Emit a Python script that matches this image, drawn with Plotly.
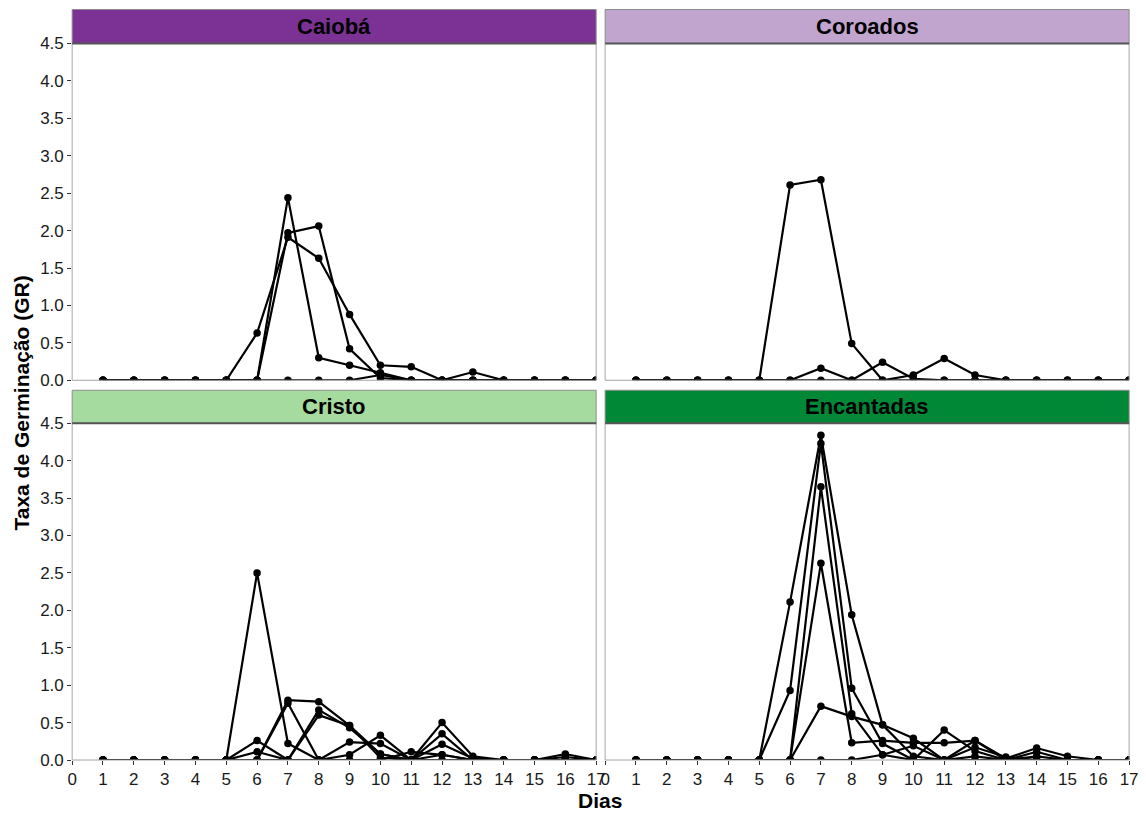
import plotly.graph_objects as go

W, H = 1146, 813
days = list(range(1, 18))
x_ticks = list(range(0, 18))
y_ticks = [0, 0.5, 1.0, 1.5, 2.0, 2.5, 3.0, 3.5, 4.0, 4.5]

panel_names = ["Caiobá", "Coroados", "Cristo", "Encantadas"]
strip_colors = ["#7B3294", "#C2A5CF", "#A6DBA0", "#008837"]

caioba = [
    [0, 0, 0, 0, 0, 0.63, 1.91, 1.63, 0.88, 0.20, 0.18, 0, 0.11, 0, 0, 0, 0],
    [0, 0, 0, 0, 0, 0, 2.44, 0.30, 0.20, 0.10, 0, 0, 0, 0, 0, 0, 0],
    [0, 0, 0, 0, 0, 0, 1.97, 2.06, 0.42, 0.03, 0, 0, 0, 0, 0, 0, 0],
    [0, 0, 0, 0, 0, 0, 0, 0, 0, 0.07, 0, 0, 0, 0, 0, 0, 0],
]
coroados = [
    [0, 0, 0, 0, 0, 2.61, 2.68, 0.49, 0, 0, 0, 0, 0, 0, 0, 0, 0],
    [0, 0, 0, 0, 0, 0, 0.16, 0, 0.24, 0.02, 0, 0, 0, 0, 0, 0, 0],
    [0, 0, 0, 0, 0, 0, 0, 0, 0, 0.07, 0.29, 0.07, 0, 0, 0, 0, 0],
]
cristo = [
    [0, 0, 0, 0, 0, 2.50, 0.22, 0, 0.24, 0.22, 0, 0.07, 0, 0, 0, 0, 0],
    [0, 0, 0, 0, 0, 0.26, 0, 0.67, 0.43, 0.08, 0, 0.21, 0.02, 0, 0, 0.08, 0],
    [0, 0, 0, 0, 0, 0.11, 0, 0.60, 0.46, 0.03, 0, 0, 0, 0, 0, 0, 0],
    [0, 0, 0, 0, 0, 0, 0.80, 0.78, 0.46, 0.08, 0, 0.50, 0.05, 0, 0, 0, 0],
    [0, 0, 0, 0, 0, 0, 0.76, 0, 0.07, 0.33, 0, 0.35, 0, 0, 0, 0, 0],
    [0, 0, 0, 0, 0, 0, 0, 0, 0, 0, 0.11, 0.07, 0, 0, 0, 0.04, 0],
]
encantadas = [
    [0, 0, 0, 0, 0, 2.11, 4.34, 1.94, 0.47, 0.05, 0, 0.26, 0.02, 0.16, 0.05, 0, 0],
    [0, 0, 0, 0, 0, 0.93, 4.23, 0.96, 0.22, 0, 0.40, 0.12, 0, 0.11, 0, 0, 0],
    [0, 0, 0, 0, 0, 0, 3.65, 0.62, 0.07, 0.19, 0, 0.17, 0.04, 0, 0, 0, 0],
    [0, 0, 0, 0, 0, 0, 2.63, 0.23, 0.26, 0.23, 0.23, 0.26, 0, 0, 0, 0, 0],
    [0, 0, 0, 0, 0, 0, 0.72, 0.58, 0.47, 0.29, 0, 0.05, 0, 0, 0, 0, 0],
    [0, 0, 0, 0, 0, 0, 0, 0, 0.07, 0, 0, 0, 0, 0.05, 0, 0, 0],
]
panels_data = [caioba, coroados, cristo, encantadas]

# target pixel layout (screen pixels)
col_x = [(71, 596), (605, 1130)]
row_plot = [(43, 380), (423, 760)]
row_strip = [(9, 43), (390, 423)]

# empirical mapping from screen pixels to paper fractions
OX, PW = 3.7, 1134.2
OY, PH = 8.5, 794.5

def px(v):
    return (v - OX) / PW

def py(v):
    return 1 - (v - OY) / PH

fig = go.Figure()
shapes = []
annotations = []
layout_axes = {}
FONT = "Liberation Sans, Arial, sans-serif"

for i, (name, data) in enumerate(zip(panel_names, panels_data)):
    r, c = divmod(i, 2)
    ax = "" if i == 0 else str(i + 1)
    x0, x1 = col_x[c]
    y0, y1 = row_plot[r]
    for s in data:
        fig.add_trace(go.Scatter(
            x=days, y=s, mode="lines+markers",
            line=dict(color="black", width=2.2),
            marker=dict(color="black", size=7.5),
            xaxis="x" + ax, yaxis="y" + ax, showlegend=False,
            hoverinfo="skip",
        ))
    bottom = r == 1
    left = c == 0
    layout_axes["xaxis" + ax] = dict(
        domain=[px(x0), px(x1)], range=[0, 17], anchor="y" + ax,
        tickmode="array", tickvals=x_ticks,
        ticktext=[str(t) for t in x_ticks] if bottom else [""] * len(x_ticks),
        showticklabels=bottom, ticks="outside" if bottom else "",
        ticklen=4, tickwidth=1, tickcolor="#333333",
        showgrid=False, zeroline=False, showline=False,
        tickfont=dict(family=FONT, size=17, color="#1a1a1a"),
        fixedrange=True,
    )
    layout_axes["yaxis" + ax] = dict(
        domain=[py(y1), py(y0)], range=[0, 4.5], anchor="x" + ax,
        tickmode="array", tickvals=y_ticks,
        ticktext=[f"{t:.1f}" for t in y_ticks],
        showticklabels=left, ticks="outside" if left else "",
        ticklen=4, tickwidth=1, tickcolor="#333333",
        showgrid=False, zeroline=False, showline=False,
        tickfont=dict(family=FONT, size=17, color="#1a1a1a"),
        fixedrange=True,
    )
    # panel border
    shapes.append(dict(type="rect", xref="paper", yref="paper",
                       x0=px(x0), x1=px(x1), y0=py(y1), y1=py(y0),
                       line=dict(color="#a6a6a6", width=1), layer="above"))
    # strip
    s0, s1 = row_strip[r]
    shapes.append(dict(type="rect", xref="paper", yref="paper",
                       x0=px(x0), x1=px(x1), y0=py(s1), y1=py(s0),
                       fillcolor=strip_colors[i],
                       line=dict(color="#8c8c8c", width=1), layer="above"))
    shapes.append(dict(type="line", xref="paper", yref="paper",
                       x0=px(x0), x1=px(x1), y0=py(s1), y1=py(s1),
                       line=dict(color="#555555", width=2), layer="above"))
    annotations.append(dict(text=f"<b>{name}</b>", xref="paper", yref="paper",
                            x=px((x0 + x1) / 2), y=py((s0 + s1) / 2),
                            xanchor="center", yanchor="middle", showarrow=False,
                            font=dict(family=FONT, size=22, color="black")))

annotations.append(dict(text="<b>Dias</b>", xref="paper", yref="paper",
                        x=px(600), y=py(800), xanchor="center", yanchor="middle",
                        showarrow=False, font=dict(family=FONT, size=21, color="black")))
annotations.append(dict(text="<b>Taxa de Germinação (GR)</b>", xref="paper", yref="paper",
                        x=px(20), y=py(403), xanchor="center", yanchor="middle",
                        textangle=-90, showarrow=False,
                        font=dict(family=FONT, size=21, color="black")))

fig.update_layout(
    width=W, height=H,
    margin=dict(l=0, r=0, t=0, b=0),
    paper_bgcolor="white", plot_bgcolor="white",
    shapes=shapes, annotations=annotations,
    showlegend=False,
    **layout_axes,
)

fig.write_html("out.html")
